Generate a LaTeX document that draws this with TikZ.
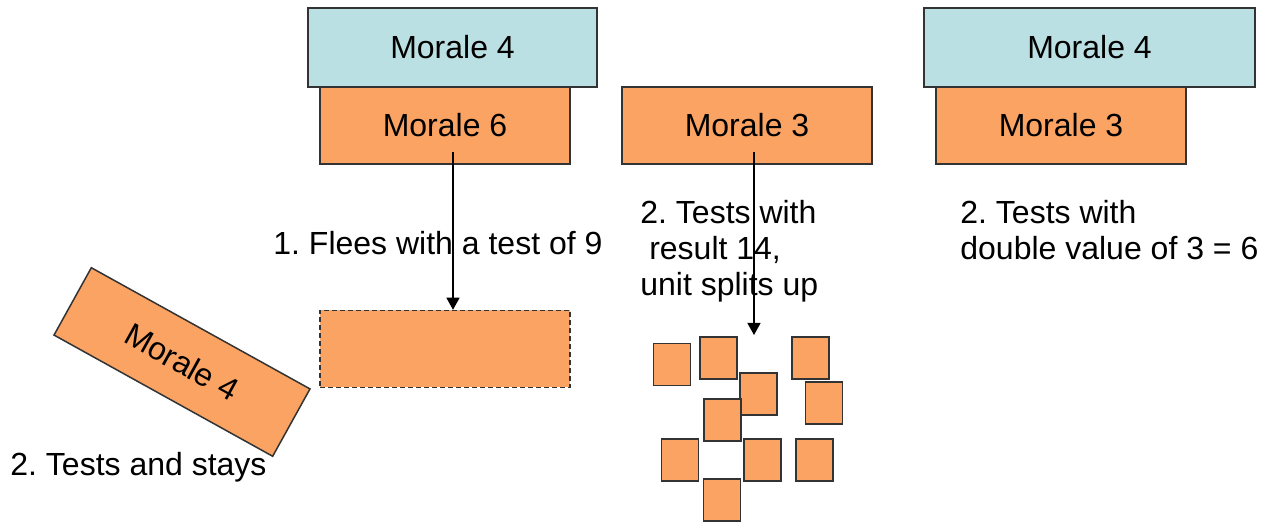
\documentclass[tikz,border=0pt]{standalone}
\usepackage{fontspec}
\setmainfont{Liberation Sans}
\usetikzlibrary{arrows.meta}
\frenchspacing

\definecolor{unitorange}{RGB}{251,163,99}
\definecolor{unitblue}{RGB}{187,224,227}

\tikzset{
  unit/.style={draw=black!80, line width=0.75pt, fill=unitorange,
    minimum width=125pt, minimum height=38.5pt, inner sep=0pt},
  enemy/.style={unit, fill=unitblue, minimum height=39.5pt},
  ghost/.style={unit, dash pattern=on 2.5pt off 1.5pt},
  bit/.style={draw=black!80, line width=0.75pt, fill=unitorange,
    minimum width=18.5pt, minimum height=21pt, inner sep=0pt},
  flee/.style={-{Triangle[width=6.5pt,length=6pt]}, line width=0.6pt},
}

\begin{document}
\begin{tikzpicture}[x=0.5pt, y=-0.5pt, every node/.style={font=\fontsize{16}{18}\selectfont}]
  \useasboundingbox (0,0) rectangle (1276,522);

  % first case
  \node[enemy, minimum width=144.5pt] (E1) at (452.5, 47.5) {Morale 4};
  \node[unit] (U1) at (445, 125.5) {Morale 6};
  \node[ghost] (G1) at (445, 349) {};
  \coordinate (a1) at (453, 152);
  \draw[flee] (a1) -- (a1 |- G1.north);
  \node[anchor=base west, inner sep=0pt] (L1) at (273, 255) {1. Flees with a test of 9};

  \node[unit, rotate=-29] (R1) at (182, 362) {Morale 4};
  \node[anchor=base west, inner sep=0pt] (L2) at (10, 476) {2. Tests and stays};

  % second case
  \node[unit] (U2) at (747, 125.5) {Morale 3};
  \coordinate (a2) at (754, 152);
  \coordinate (a2e) at (754, 335);
  \draw[flee] (a2) -- (a2e);
  \node[anchor=north west, align=left, inner sep=0pt] (L3) at (640, 200)
    {2. Tests with\\ \ result 14,\\unit splits up};

  \node[bit] (S1) at (672, 364.5) {};
  \node[bit] (S2) at (718.5, 358) {};
  \node[bit] (S3) at (758.5, 394) {};
  \node[bit] (S4) at (722.5, 420) {};
  \node[bit] (S5) at (810.5, 358) {};
  \node[bit] (S6) at (824, 403) {};
  \node[bit] (S7) at (680, 460) {};
  \node[bit] (S8) at (762.5, 460) {};
  \node[bit] (S9) at (814.5, 460) {};
  \node[bit] (S10) at (722, 500) {};

  % third case
  \node[enemy, minimum width=165.5pt] (E3) at (1089.5, 47.5) {Morale 4};
  \node[unit] (U3) at (1061, 125.5) {Morale 3};
  \node[anchor=north west, align=left, inner sep=0pt] (L4) at (960, 200)
    {2. Tests with\\double value of 3 = 6};
\end{tikzpicture}
\end{document}
